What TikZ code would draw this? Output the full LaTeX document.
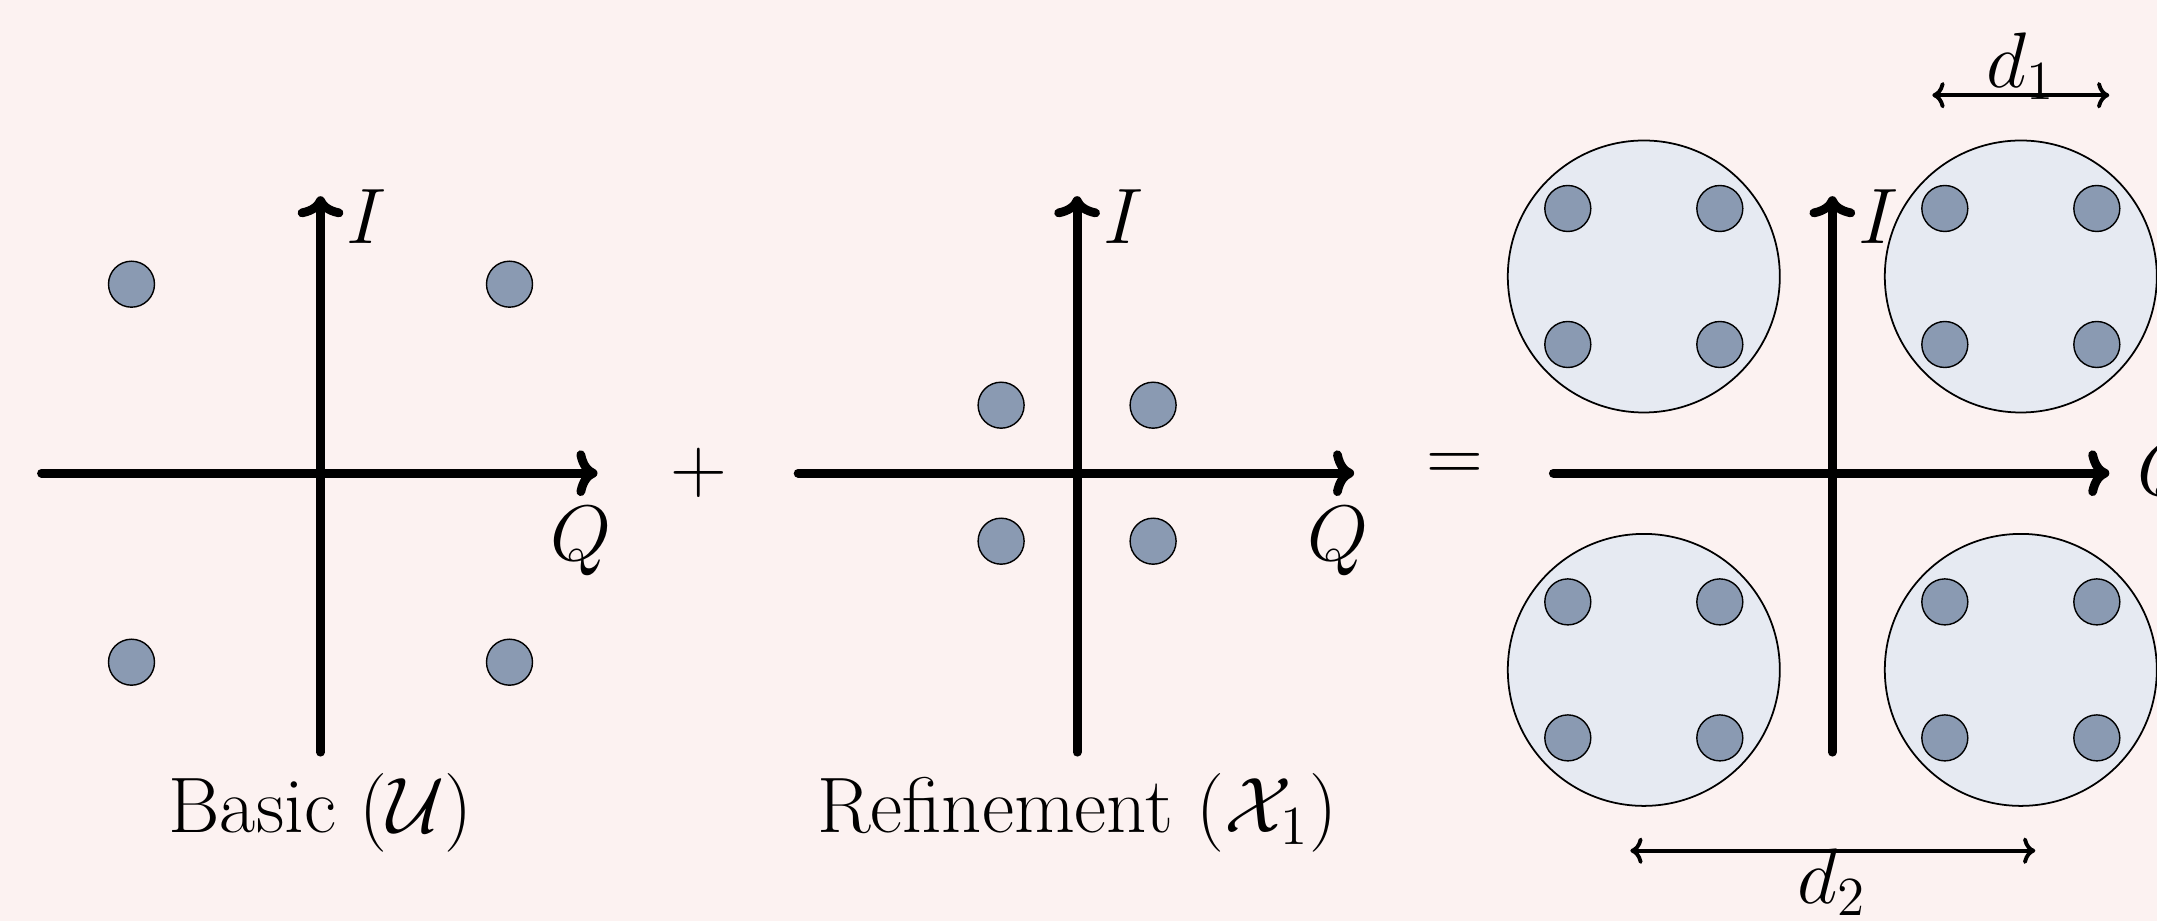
\RequirePackage{fix-cm}
\documentclass[tikz,border=0pt]{standalone}
\usepackage{amsmath, amssymb}
\usepackage{tikz}
\usetikzlibrary{arrows.meta,backgrounds}
\definecolor{bgpink}{RGB}{252,242,241}
\definecolor{symblue}{RGB}{138,154,178}
\definecolor{regionblue}{RGB}{230,234,242}

\begin{document}
\begin{tikzpicture}[sym/.style={fill=symblue,draw=black,line width=0.4pt},
	region/.style={fill=regionblue,draw=black,line width=0.5pt},
	axis/.style={line width=2.5pt,line cap=round,-{To[length=6pt,width=13pt,round]}},
	dist/.style={line width=1.1pt,{To[length=3.5pt,width=7.5pt,round]}-{To[length=3.5pt,width=7.5pt,round]}},
	lbl/.style={font=\fontsize{22.4}{26}\selectfont,inner sep=0pt}]
					\useasboundingbox (0,0) rectangle (21.57,9.21);
					\fill[bgpink] (0,0) rectangle (21.57,9.21);
					\begin{scope}[shift={(3.205,4.478)}]
					\coordinate (w1) at (-2.79,0);
					\coordinate (e1) at (2.77,0);
					\coordinate (s1) at (0,-2.79);
					\coordinate (n1) at (0,2.77);
					\draw[axis] (w1) -- (e1);
					\draw[axis] (s1) -- (n1);
					\filldraw[sym] (-1.89,1.89) circle (0.23);
					\filldraw[sym] (1.89,1.89) circle (0.23);
					\filldraw[sym] (-1.89,-1.89) circle (0.23);
					\filldraw[sym] (1.89,-1.89) circle (0.23);
					\node[lbl] (i1) at (0.46,2.57) {$I$};
					\node[lbl] (q1) at (2.61,-0.68) {$Q$};
					\node[lbl,anchor=base] (basic) at (0,-3.595) {Basic ($\mathcal{U}$)};
					\node[lbl] (plus) at (3.78,0) {$+$};
					\end{scope}
					\begin{scope}[shift={(10.771,4.478)}]
					\coordinate (w2) at (-2.79,0);
					\coordinate (e2) at (2.77,0);
					\coordinate (s2) at (0,-2.79);
					\coordinate (n2) at (0,2.77);
					\draw[axis] (w2) -- (e2);
					\draw[axis] (s2) -- (n2);
					\filldraw[sym] (-0.76,0.68) circle (0.23);
					\filldraw[sym] (0.76,0.68) circle (0.23);
					\filldraw[sym] (-0.76,-0.68) circle (0.23);
					\filldraw[sym] (0.76,-0.68) circle (0.23);
					\node[lbl] (i2) at (0.46,2.57) {$I$};
					\node[lbl] (q2) at (2.61,-0.68) {$Q$};
					\node[lbl,anchor=base] (refine) at (0,-3.595) {Refinement ($\mathcal{X}_1$)};
					\node[lbl] (equal) at (3.78,0.06) {$=$};
					\end{scope}
					\begin{scope}[shift={(18.323,4.478)}]
					\filldraw[region] (-1.885,1.967) circle (1.36);
					\filldraw[region] (1.885,1.967) circle (1.36);
					\filldraw[region] (-1.885,-1.967) circle (1.36);
					\filldraw[region] (1.885,-1.967) circle (1.36);
					\filldraw[sym] (-2.645,2.647) circle (0.23);
					\filldraw[sym] (-1.125,2.647) circle (0.23);
					\filldraw[sym] (-2.645,1.287) circle (0.23);
					\filldraw[sym] (-1.125,1.287) circle (0.23);
					\filldraw[sym] (1.125,2.647) circle (0.23);
					\filldraw[sym] (2.645,2.647) circle (0.23);
					\filldraw[sym] (1.125,1.287) circle (0.23);
					\filldraw[sym] (2.645,1.287) circle (0.23);
					\filldraw[sym] (-2.645,-1.287) circle (0.23);
					\filldraw[sym] (-1.125,-1.287) circle (0.23);
					\filldraw[sym] (-2.645,-2.647) circle (0.23);
					\filldraw[sym] (-1.125,-2.647) circle (0.23);
					\filldraw[sym] (1.125,-1.287) circle (0.23);
					\filldraw[sym] (2.645,-1.287) circle (0.23);
					\filldraw[sym] (1.125,-2.647) circle (0.23);
					\filldraw[sym] (2.645,-2.647) circle (0.23);
					\coordinate (w3) at (-2.79,0);
					\coordinate (e3) at (2.77,0);
					\coordinate (s3) at (0,-2.79);
					\coordinate (n3) at (0,2.77);
					\draw[axis] (w3) -- (e3);
					\draw[axis] (s3) -- (n3);
					\node[lbl] (i3) at (0.46,2.57) {$I$};
					\node[lbl,anchor=base west] (q3) at (3.04,-0.22) {$Q$};
					\coordinate (d1l) at (1.00,3.78);
					\coordinate (d1r) at (2.77,3.78);
					\coordinate (d2l) at (-2.02,-3.775);
					\coordinate (d2r) at (2.03,-3.775);
					\draw[dist] (d1l) -- (d1r);
					\draw[dist] (d2l) -- (d2r);
					\node[lbl,anchor=base] (d1) at (1.885,3.855) {$d_1$};
					\node[lbl,anchor=base] (d2) at (0,-4.30) {$d_2$};
					\end{scope}
				\end{tikzpicture}
\end{document}
